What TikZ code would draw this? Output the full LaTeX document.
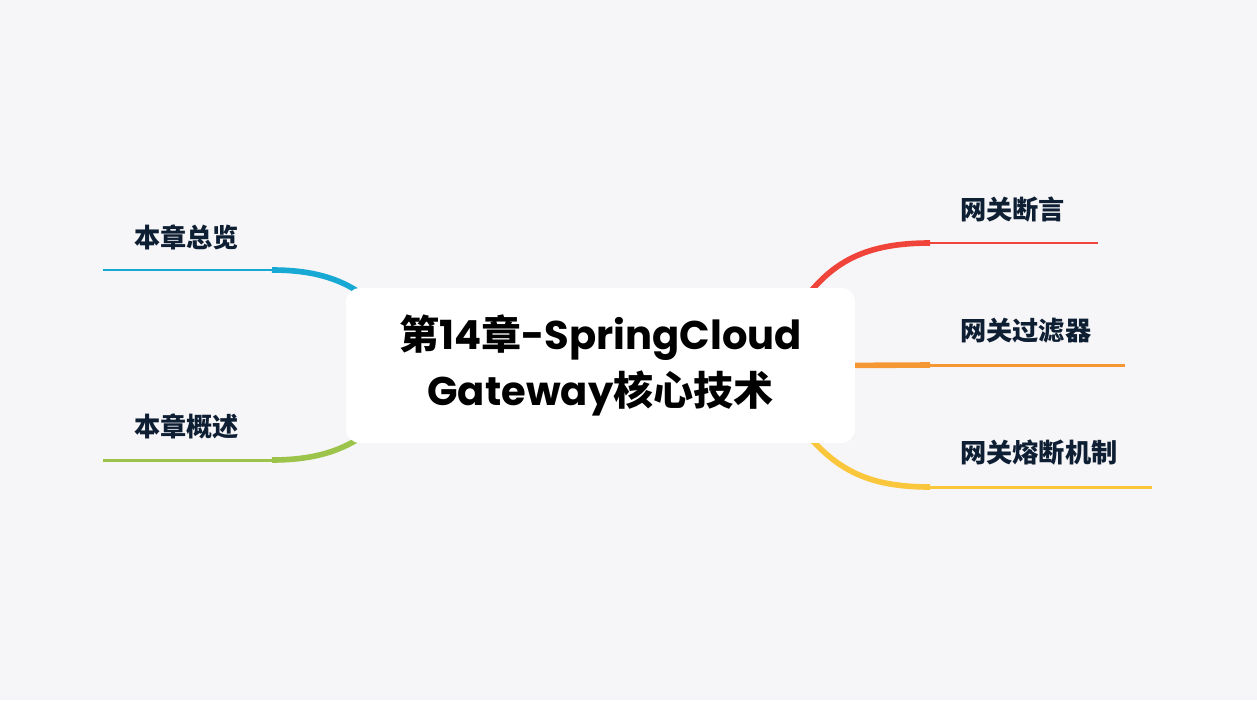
\documentclass[tikz,border=0pt]{standalone}
\usepackage{fontspec}
\setmainfont{Poppins}
\newfontfamily\cjk{Noto Sans CJK SC}
\usetikzlibrary{backgrounds}
\definecolor{bgcol}{HTML}{F6F6F9}
\definecolor{navy}{HTML}{0F1F33}
\definecolor{cyanbr}{HTML}{17A8D3}
\definecolor{greenbr}{HTML}{9CC44B}
\definecolor{redbr}{HTML}{F0443A}
\definecolor{orangebr}{HTML}{F59833}
\definecolor{yellowbr}{HTML}{FAC63C}
\begin{document}
\begin{tikzpicture}[x=0.02cm, y=-0.02cm,
    root/.style={rectangle, fill=white, rounded corners=8pt, minimum width=10.18cm, minimum height=3.1cm, align=center, font=\fontsize{22.8}{31.5}\selectfont\bfseries},
    topic/.style={anchor=west, text=navy, inner sep=0pt, font=\cjk\fontsize{14.9}{16}\selectfont\bfseries},
    curve/.style={line width=3.2pt},
    stem/.style={line width=1.7pt}
]
    \useasboundingbox (0,0) rectangle (1257,700);

    \node[root] (root) at (600.5,365.5) {{\cjk 第}14{\cjk 章}-SpringCloud\\Gateway{\cjk 核心技术}};

    \node[topic] (overview) at (134,237) {本章总览};
    \node[topic] (summary)  at (134,426) {本章概述};
    \node[topic] (predicate) at (960,210) {网关断言};
    \node[topic] (filter)    at (960,331) {网关过滤器};
    \node[topic] (breaker)   at (960,453) {网关熔断机制};

    \coordinate (overviewL)  at (103,270);
    \coordinate (overviewK)  at (272,270);
    \coordinate (summaryL)   at (103,460);
    \coordinate (summaryK)   at (272,460);
    \coordinate (predicateR) at (1098,243);
    \coordinate (predicateK) at (930,243);
    \coordinate (filterR)    at (1125,365);
    \coordinate (filterK)    at (930,365);
    \coordinate (breakerR)   at (1152,487);
    \coordinate (breakerK)   at (930,487);

    \begin{pgfonlayer}{background}
    \fill[bgcol] (0,0) rectangle (1257,700);
    \draw[stem, cyanbr] (overviewL) -- (overviewK);
    \draw[curve, cyanbr] (overviewK) .. controls (320,270) and (348,282) .. ([shift={(15pt,-8pt)}]root.north west);
    \draw[stem, greenbr] (summaryL) -- (summaryK);
    \draw[curve, greenbr] (summaryK) .. controls (320,460) and (348,448) .. ([shift={(15pt,8pt)}]root.south west);
    \draw[stem, redbr] (predicateK) -- (predicateR);
    \draw[curve, redbr] (predicateK) .. controls (865,243) and (832,262) .. ([shift={(-30pt,-8pt)}]root.north east);
    \draw[stem, orangebr] (filterK) -- (filterR);
    \draw[curve, orangebr] (filterK) -- ([xshift=-10pt]root.east);
    \draw[stem, yellowbr] (breakerK) -- (breakerR);
    \draw[curve, yellowbr] (breakerK) .. controls (865,487) and (835,468) .. ([shift={(-30pt,8pt)}]root.south east);
    \end{pgfonlayer}
\end{tikzpicture}
\end{document}
